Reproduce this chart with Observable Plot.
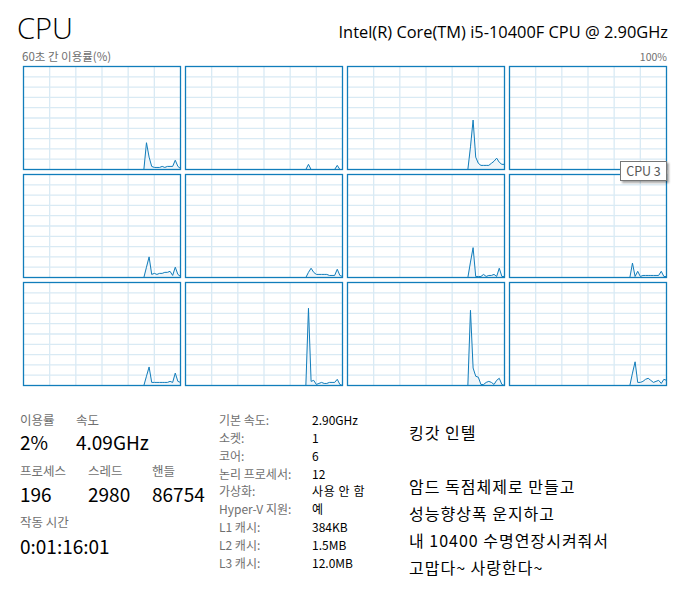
<!DOCTYPE html>
<html><head><meta charset="utf-8">
<script src="https://cdn.jsdelivr.net/npm/d3@7"></script>
<script src="https://cdn.jsdelivr.net/npm/@observablehq/plot@0.6"></script>
<style>
html,body{margin:0;padding:0;background:#fff;}
body{width:685px;height:598px;position:relative;overflow:hidden;font-family:"Noto Sans CJK KR","Noto Sans",sans-serif;}
.t{position:absolute;white-space:nowrap;line-height:1.2;}
#chart{position:absolute;left:0;top:60px;}
#tip{position:absolute;left:620px;top:161px;width:45px;height:18px;border:1px solid #767676;background:#fff;box-shadow:2px 2px 2px rgba(0,0,0,0.35);font-size:12.5px;color:#575757;line-height:18px;text-align:center;}
</style></head><body>
<div id="chart"></div>
<div id="tip"></div>
<script>
// ---- data ----
const seconds = [46,47,48,49,50,51,52,53,54,55,56,57,58,59,60];
const cpu0  = [0,26,12,3,2,2,2,3,2,3,3,3,9,3,1];
const cpu1  = [0,5,0,0,0,0,0,0,0,0,0,0,4,0,0];
const cpu2  = [0,22,48,12,6,4,4,4,4,6,8,11,7,5,5];
const cpu3  = [0,3,0,0,0,0,0,0,0,0,0,0,0,0,0];
const cpu4  = [0,10,20,3,4,3,4,4,5,5,6,2,10,3,1];
const cpu5  = [0,5,9,5,3,3,3,3,3,2,2,2,8,2,1];
const cpu6  = [0,15,29,1,1,1,3,1,2,2,3,1,9,1,1];
const cpu7  = [0,14,1,6,1,2,2,2,2,2,2,2,6,1,1];
const cpu8  = [0,9,18,3,3,3,3,3,3,3,4,3,12,4,3];
const cpu9  = [0,75,4,5,1,2,3,2,2,3,3,3,6,1,0];
const cpu10 = [0,73,17,9,8,1,1,3,4,3,1,5,7,1,0];
const cpu11 = [0,12,23,3,3,4,6,7,5,3,4,5,2,6,5];
const cpuNames = ["CPU 0","CPU 1","CPU 2","CPU 3","CPU 4","CPU 5","CPU 6","CPU 7","CPU 8","CPU 9","CPU 10","CPU 11"];
const gridSeconds = [10,20,30,40,50];
const gridPercents = [10,20,30,40,50,60,70,80,90];

const titleText = "CPU";
const modelText = "Intel(R) Core(TM) i5-10400F CPU @ 2.90GHz";
const axisLeftText = "60초 간 이용률(%)";
const axisRightText = "100%";
const tooltipText = cpuNames[3];

const statLabels = ["이용률","속도","프로세스","스레드","핸들","작동 시간"];
const statValues = ["2%","4.09GHz","196","2980","86754","0:01:16:01"];
const detailLabels = ["기본 속도:","소켓:","코어:","논리 프로세서:","가상화:","Hyper-V 지원:","L1 캐시:","L2 캐시:","L3 캐시:"];
const detailValues = ["2.90GHz","1","6","12","사용 안 함","예","384KB","1.5MB","12.0MB"];
const poemLines = ["킹갓 인텔","","암드 독점체제로 만들고","성능향상폭 운지하고","내 10400 수명연장시켜줘서","고맙다~ 사랑한다~"];

// ---- chart ----
const series = [cpu0,cpu1,cpu2,cpu3,cpu4,cpu5,cpu6,cpu7,cpu8,cpu9,cpu10,cpu11];
const rows = [];
series.forEach((vals, i) => vals.forEach((v, k) => rows.push({cpu: cpuNames[i], col: i % 4, row: Math.floor(i / 4), t: seconds[k], v})));

const plot = Plot.plot({
  width: 685, height: 330,
  marginLeft: 22, marginRight: 18, marginTop: 6, marginBottom: 4,
  style: {background: "transparent"},
  x: {domain: [0, 60], axis: null},
  y: {domain: [0, 100], axis: null},
  fx: {domain: [0,1,2,3], axis: null, paddingInner: 0.031, paddingOuter: 0},
  fy: {domain: [0,1,2], axis: null, paddingInner: 0.046, paddingOuter: 0},
  marks: [
    Plot.gridX(gridSeconds, {stroke: "#D9EAF4", strokeOpacity: 1, strokeWidth: 1.3}),
    Plot.gridY(gridPercents, {stroke: "#D9EAF4", strokeOpacity: 1, strokeWidth: 1.3}),
    Plot.areaY(rows, {x: "t", y: "v", fx: "col", fy: "row", fill: "#F1F6FA"}),
    Plot.lineY(rows, {x: "t", y: "v", fx: "col", fy: "row", stroke: "#117DBB", strokeWidth: 1}),
    Plot.frame({stroke: "#117DBB", strokeWidth: 1.3})
  ]
});
document.getElementById("chart").appendChild(plot);
document.getElementById("tip").textContent = tooltipText;

// ---- texts ----
function place(text, x, cy, size, color, opts = {}) {
  const d = document.createElement("div");
  d.className = "t";
  d.textContent = text;
  d.style.fontSize = size + "px";
  d.style.color = color;
  d.style.top = (cy - size * 0.6) + "px";
  if (opts.right) { d.style.right = (685 - x) + "px"; } else { d.style.left = x + "px"; }
  if (opts.weight) d.style.fontWeight = opts.weight;
  if (opts.family) d.style.fontFamily = opts.family;
  if (opts.spacing) d.style.letterSpacing = opts.spacing + "px";
  document.body.appendChild(d);
}
const gray = "#6f6f6f";
place(titleText, 17, 28, 29, "#000", {weight: 300, family: "'Open Sans','Noto Sans',sans-serif"});
place(modelText, 668, 32, 16.4, "#000", {right: true, family: "'Open Sans','Noto Sans',sans-serif"});
place(axisLeftText, 22, 57, 11.5, gray);
place(axisRightText, 667, 57, 10.5, gray, {right: true});

const labelPos = [[20,419],[76,419],[20,470],[88,470],[152,470],[20,521]];
const valuePos = [[20,442],[76,442],[20,494],[88,494],[152,494],[20,546]];
statLabels.forEach((s, i) => place(s, labelPos[i][0], labelPos[i][1], 12.5, gray));
statValues.forEach((s, i) => place(s, valuePos[i][0], valuePos[i][1], 19, "#000"));

detailLabels.forEach((s, i) => place(s, 219, 420 + 17.9 * i, 12, gray));
detailValues.forEach((s, i) => place(s, 312, 420 + 17.9 * i, 12, "#000", {spacing: i === 4 ? 0.6 : 0}));

const poemY = [433, 460, 487, 514, 541, 568];
poemLines.forEach((s, i) => { if (s) place(s, 409, poemY[i], 16, "#000", {spacing: 1}); });
</script>
</body></html>
